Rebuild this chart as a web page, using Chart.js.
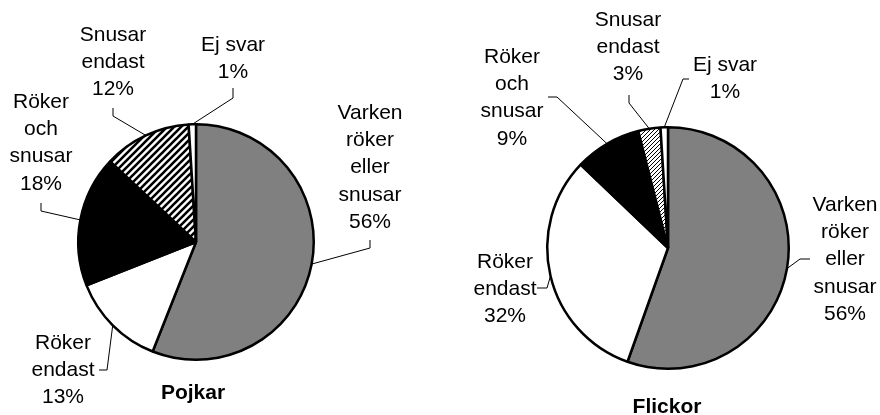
<!DOCTYPE html>
<html>
<head>
<meta charset="utf-8">
<script src="https://cdn.jsdelivr.net/npm/chart.js@4"></script>
<style>
  body { margin: 0; background: #fff; }
  .wrap { position: relative; width: 880px; height: 415px; }
  canvas { position: absolute; top: 0; }
</style>
</head>
<body>
<div class="wrap">
  <canvas id="boysChart" width="440" height="415" style="left:0"></canvas>
  <canvas id="girlsChart" width="440" height="415" style="left:440px"></canvas>
</div>
<script>
// Categories (line-broken as in the figure)
const categories = [
    ['Varken', 'röker', 'eller', 'snusar'],
    ['Röker', 'endast'],
    ['Röker', 'och', 'snusar'],
    ['Snusar', 'endast'],
    ['Ej svar']
];
const boysValues = [56, 13, 18, 12, 1];
const girlsValues = [56, 32, 9, 3, 1];

// label placement: text centre x, first line y, leader elbow points (label -> slice)
const boysLabels = [
    { x: 370, y: 113, leader: [[370, 240], [370, 248]] },
    { x: 63, y: 343, leader: [[99, 370], [107, 370]] },
    { x: 41, y: 102, leader: [[41, 203], [41, 211]] },
    { x: 113, y: 35, leader: [[113, 108], [113, 116]] },
    { x: 233, y: 45, leader: [[233, 88], [233, 98]] }
];
const girlsLabels = [
    { x: 405, y: 205, leader: [[370, 259], [360, 259]] },
    { x: 65, y: 262, leader: [[97, 288], [107, 288]] },
    { x: 72, y: 57, leader: [[108, 97], [117, 97]] },
    { x: 188, y: 20, leader: [[189, 95], [189, 103]] },
    { x: 285, y: 65, leader: [[249, 79], [243, 79]] }
];

const FONT = '"Liberation Sans", Arial, sans-serif';

function hatch(size, lineWidth) {
    const c = document.createElement('canvas');
    c.width = size; c.height = size;
    const g = c.getContext('2d');
    g.fillStyle = '#fff';
    g.fillRect(0, 0, size, size);
    g.strokeStyle = '#000';
    g.lineWidth = lineWidth;
    g.beginPath();
    g.moveTo(-size, 2 * size); g.lineTo(2 * size, -size);
    g.moveTo(-size, size); g.lineTo(size, -size);
    g.moveTo(0, 2 * size); g.lineTo(2 * size, 0);
    g.stroke();
    return g.createPattern(c, 'repeat');
}

const pieLabels = {
    id: 'pieLabels',
    afterDraw(chart, args, opts) {
        const ctx = chart.ctx;
        const meta = chart.getDatasetMeta(0);
        const values = chart.data.datasets[0].data;
        ctx.save();
        ctx.font = '21px ' + FONT;
        ctx.fillStyle = '#000';
        ctx.textAlign = 'center';
        ctx.textBaseline = 'middle';
        meta.data.forEach((arc, i) => {
            const lab = opts.labels[i];
            const lines = categories[i].concat([values[i] + '%']);
            lines.forEach((t, k) => ctx.fillText(t, lab.x, lab.y + k * 27.3));
            const mid = (arc.startAngle + arc.endAngle) / 2;
            const px = arc.x + Math.cos(mid) * arc.outerRadius;
            const py = arc.y + Math.sin(mid) * arc.outerRadius;
            ctx.strokeStyle = '#000';
            ctx.lineWidth = 1;
            ctx.beginPath();
            ctx.moveTo(lab.leader[0][0], lab.leader[0][1]);
            lab.leader.slice(1).forEach(p => ctx.lineTo(p[0], p[1]));
            ctx.lineTo(px, py);
            ctx.stroke();
        });
        ctx.font = 'bold 21px ' + FONT;
        ctx.fillText(opts.title, opts.titleX, opts.titleY);
        ctx.restore();
    }
};

function makePie(id, values, fills, labels, padding, title, titleX, titleY) {
    return new Chart(document.getElementById(id), {
        type: 'pie',
        data: {
            labels: categories.map(c => c.join(' ')),
            datasets: [{
                data: values,
                backgroundColor: fills,
                borderColor: '#000',
                borderWidth: 2.5
            }]
        },
        options: {
            responsive: false,
            animation: false,
            layout: { padding: padding },
            plugins: {
                legend: { display: false },
                tooltip: { enabled: false },
                pieLabels: { labels: labels, title: title, titleX: titleX, titleY: titleY }
            }
        },
        plugins: [pieLabels]
    });
}

makePie('boysChart', boysValues,
    ['#808080', '#ffffff', '#000000', hatch(7, 2.6), '#ffffff'],
    boysLabels, { left: 77, right: 125, top: 123, bottom: 54 }, 'Pojkar', 193, 393);

makePie('girlsChart', girlsValues,
    ['#808080', '#ffffff', '#000000', hatch(4, 1), '#ffffff'],
    girlsLabels, { left: 106, right: 90, top: 126, bottom: 45 }, 'Flickor', 227, 407);
</script>
</body>
</html>
